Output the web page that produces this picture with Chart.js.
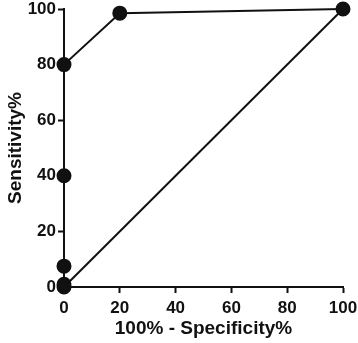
<!DOCTYPE html>
<html>
<head>
<meta charset="utf-8">
<script src="https://cdn.jsdelivr.net/npm/chart.js@4"></script>
<style>
  html, body { margin: 0; padding: 0; background: #fff; }
  #wrap { width: 358px; height: 343px; }
</style>
</head>
<body>
<div id="wrap"><canvas id="rocChart" width="358" height="343"></canvas></div>
<script>
// ROC curve points (100% - specificity, sensitivity)
const fprValues = [0, 0, 0, 0, 0, 20, 100];
const sensValues = [0, 1, 7.5, 40, 80, 98.5, 100];
// reference line
const diagX = [0, 100];
const diagY = [0, 100];
const tickValues = [0, 20, 40, 60, 80, 100];

const font = 'Liberation Sans, Arial, sans-serif';

const ctx = document.getElementById('rocChart').getContext('2d');
const rocChart = new Chart(ctx, {
    type: 'scatter',
    data: {
        datasets: [
            {
                label: 'ROC',
                data: fprValues.map((x, i) => ({ x: x, y: sensValues[i] })),
                showLine: true,
                borderColor: '#111',
                backgroundColor: '#111',
                borderWidth: 2,
                pointRadius: 6.5,
                pointHoverRadius: 6.5,
                clip: false
            },
            {
                label: 'Reference',
                data: diagX.map((x, i) => ({ x: x, y: diagY[i] })),
                showLine: true,
                borderColor: '#111',
                borderWidth: 2,
                pointRadius: 0,
                clip: false
            }
        ]
    },
    options: {
        responsive: false,
        animation: false,
        layout: { padding: { top: 9, right: 15, left: 0, bottom: 0 } },
        plugins: {
            legend: { display: false },
            tooltip: { enabled: false }
        },
        scales: {
            x: {
                type: 'linear',
                min: 0,
                max: 100,
                afterBuildTicks: function (axis) {
                    axis.ticks = tickValues.map(v => ({ value: v }));
                },
                afterFit: function (axis) {
                    axis.height = 56;
                    axis.paddingLeft = 0;
                    axis.paddingRight = 0;
                },
                border: { color: '#111', width: 2 },
                grid: { drawOnChartArea: false, color: '#111', tickColor: '#111', tickLength: 6, tickWidth: 2 },
                ticks: { color: '#111', font: { family: font, size: 17, weight: 'bold' }, padding: 5, maxRotation: 0 },
                title: {
                    display: true,
                    text: '100% - Specificity%',
                    color: '#111',
                    font: { family: font, size: 19, weight: 'bold' },
                    padding: { top: 2, bottom: 3 }
                }
            },
            y: {
                type: 'linear',
                min: 0,
                max: 100,
                afterBuildTicks: function (axis) {
                    axis.ticks = tickValues.map(v => ({ value: v }));
                },
                afterFit: function (axis) {
                    axis.width = 64;
                    axis.paddingTop = 0;
                    axis.paddingBottom = 0;
                },
                border: { color: '#111', width: 2 },
                grid: { drawOnChartArea: false, color: '#111', tickColor: '#111', tickLength: 6, tickWidth: 2 },
                ticks: { color: '#111', font: { family: font, size: 17, weight: 'bold' }, padding: 2 },
                title: {
                    display: true,
                    text: 'Sensitivity%',
                    color: '#111',
                    font: { family: font, size: 19, weight: 'bold' },
                    padding: { top: 4, bottom: 4 }
                }
            }
        }
    }
});
</script>
</body>
</html>
